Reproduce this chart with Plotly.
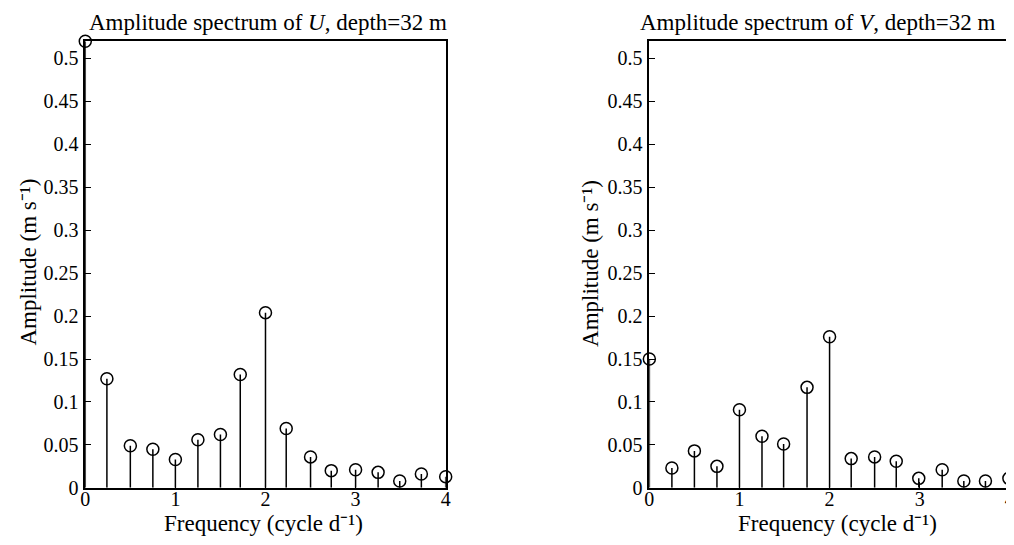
import plotly.graph_objects as go

# Data
freq_u = [0, 0.24, 0.5, 0.75, 1.0, 1.25, 1.5, 1.72, 2.0, 2.23, 2.5, 2.73, 3.0, 3.25, 3.49, 3.73, 4.0]
amp_u = [0.52, 0.127, 0.049, 0.045, 0.033, 0.056, 0.062, 0.132, 0.204, 0.069, 0.036, 0.020, 0.021, 0.018, 0.008, 0.016, 0.013]

freq_v = [0, 0.25, 0.5, 0.75, 1.0, 1.25, 1.49, 1.75, 2.0, 2.24, 2.5, 2.74, 2.99, 3.25, 3.49, 3.73, 3.99]
amp_v = [0.150, 0.023, 0.043, 0.025, 0.091, 0.060, 0.051, 0.117, 0.176, 0.034, 0.036, 0.031, 0.011, 0.021, 0.008, 0.008, 0.011]

y_tickvals = [0, 0.05, 0.1, 0.15, 0.2, 0.25, 0.3, 0.35, 0.4, 0.45, 0.5]
y_ticktext = ["0", "0.05", "0.1", "0.15", "0.2", "0.25", "0.3", "0.35", "0.4", "0.45", "0.5"]
x_tickvals = [0, 1, 2, 3, 4]
x_ticktext = ["0", "1", "2", "3", "4"]

titles = ["Amplitude spectrum of <i>U</i>, depth=32 m",
          "Amplitude spectrum of <i>V</i>, depth=32 m"]
x_title = "Frequency (cycle d⁻¹)"
y_title = "Amplitude (m s⁻¹)"

FONT = "Liberation Serif, Times New Roman, serif"
W, H = 1014, 545
OFF = 8  # page body margin: figure is drawn 8 px right/down of the window corner


def px(x):
    return (x - OFF) / W


def py(y):
    return (H - (y - OFF)) / H


fig = go.Figure()


def stems(f, a):
    xs, ys = [], []
    for fi, ai in zip(f, a):
        xs += [fi, fi, None]
        ys += [0, ai, None]
    return xs, ys


for i, (f, a) in enumerate([(freq_u, amp_u), (freq_v, amp_v)]):
    xa = "x" if i == 0 else "x2"
    ya = "y" if i == 0 else "y2"
    sx, sy = stems(f, a)
    fig.add_trace(go.Scatter(x=sx, y=sy, mode="lines", xaxis=xa, yaxis=ya,
                             line=dict(color="black", width=1.5),
                             hoverinfo="skip", showlegend=False, cliponaxis=False))
    fig.add_trace(go.Scatter(x=f, y=a, mode="markers", xaxis=xa, yaxis=ya,
                             marker=dict(symbol="circle-open", size=12, color="black",
                                         line=dict(width=1.5, color="black")),
                             showlegend=False, cliponaxis=False))

ydom = [py(497.7), py(42)]
xdoms = [[px(81), px(445)], [px(650.7), px(1014.7)]]

axis_common = dict(showline=True, linecolor="black", linewidth=1.5, mirror=True,
                   ticks="inside", ticklen=6, tickwidth=1.2, tickcolor="black",
                   showgrid=False, zeroline=False,
                   tickfont=dict(family=FONT, size=20, color="black"))

for i in range(2):
    sfx = "" if i == 0 else "2"
    fig.layout["xaxis" + sfx] = dict(axis_common, domain=xdoms[i], range=[0, 4],
                                     anchor="y" + sfx, tickvals=x_tickvals, ticktext=x_ticktext,
                                     ticklabelstandoff=-8)
    fig.layout["yaxis" + sfx] = dict(axis_common, domain=ydom, range=[0, 0.52],
                                     anchor="x" + sfx, tickvals=y_tickvals, ticktext=y_ticktext,
                                     ticklabelstandoff=1)

annotations = []
title_x = [266, 821]
xt_x = [260.5, 840.5]
yt_x = [24, 591]
yt_y = [267, 269]
for i in range(2):
    annotations.append(dict(text=titles[i], x=px(title_x[i]), y=py(23), xref="paper", yref="paper",
                            xanchor="center", yanchor="middle", showarrow=False,
                            font=dict(family=FONT, size=23, color="black")))
    annotations.append(dict(text=x_title, x=px(xt_x[i]), y=py(534), xref="paper", yref="paper",
                            xanchor="center", yanchor="middle", showarrow=False,
                            font=dict(family=FONT, size=23, color="black")))
    annotations.append(dict(text=y_title, x=px(yt_x[i]), y=py(yt_y[i]), xref="paper", yref="paper",
                            xanchor="center", yanchor="middle", showarrow=False, textangle=-90,
                            font=dict(family=FONT, size=23, color="black")))

fig.update_layout(width=W, height=H, margin=dict(l=0, r=0, t=0, b=0),
                  paper_bgcolor="white", plot_bgcolor="white",
                  annotations=annotations, font=dict(family=FONT, color="black"))

fig.write_html("out.html")
